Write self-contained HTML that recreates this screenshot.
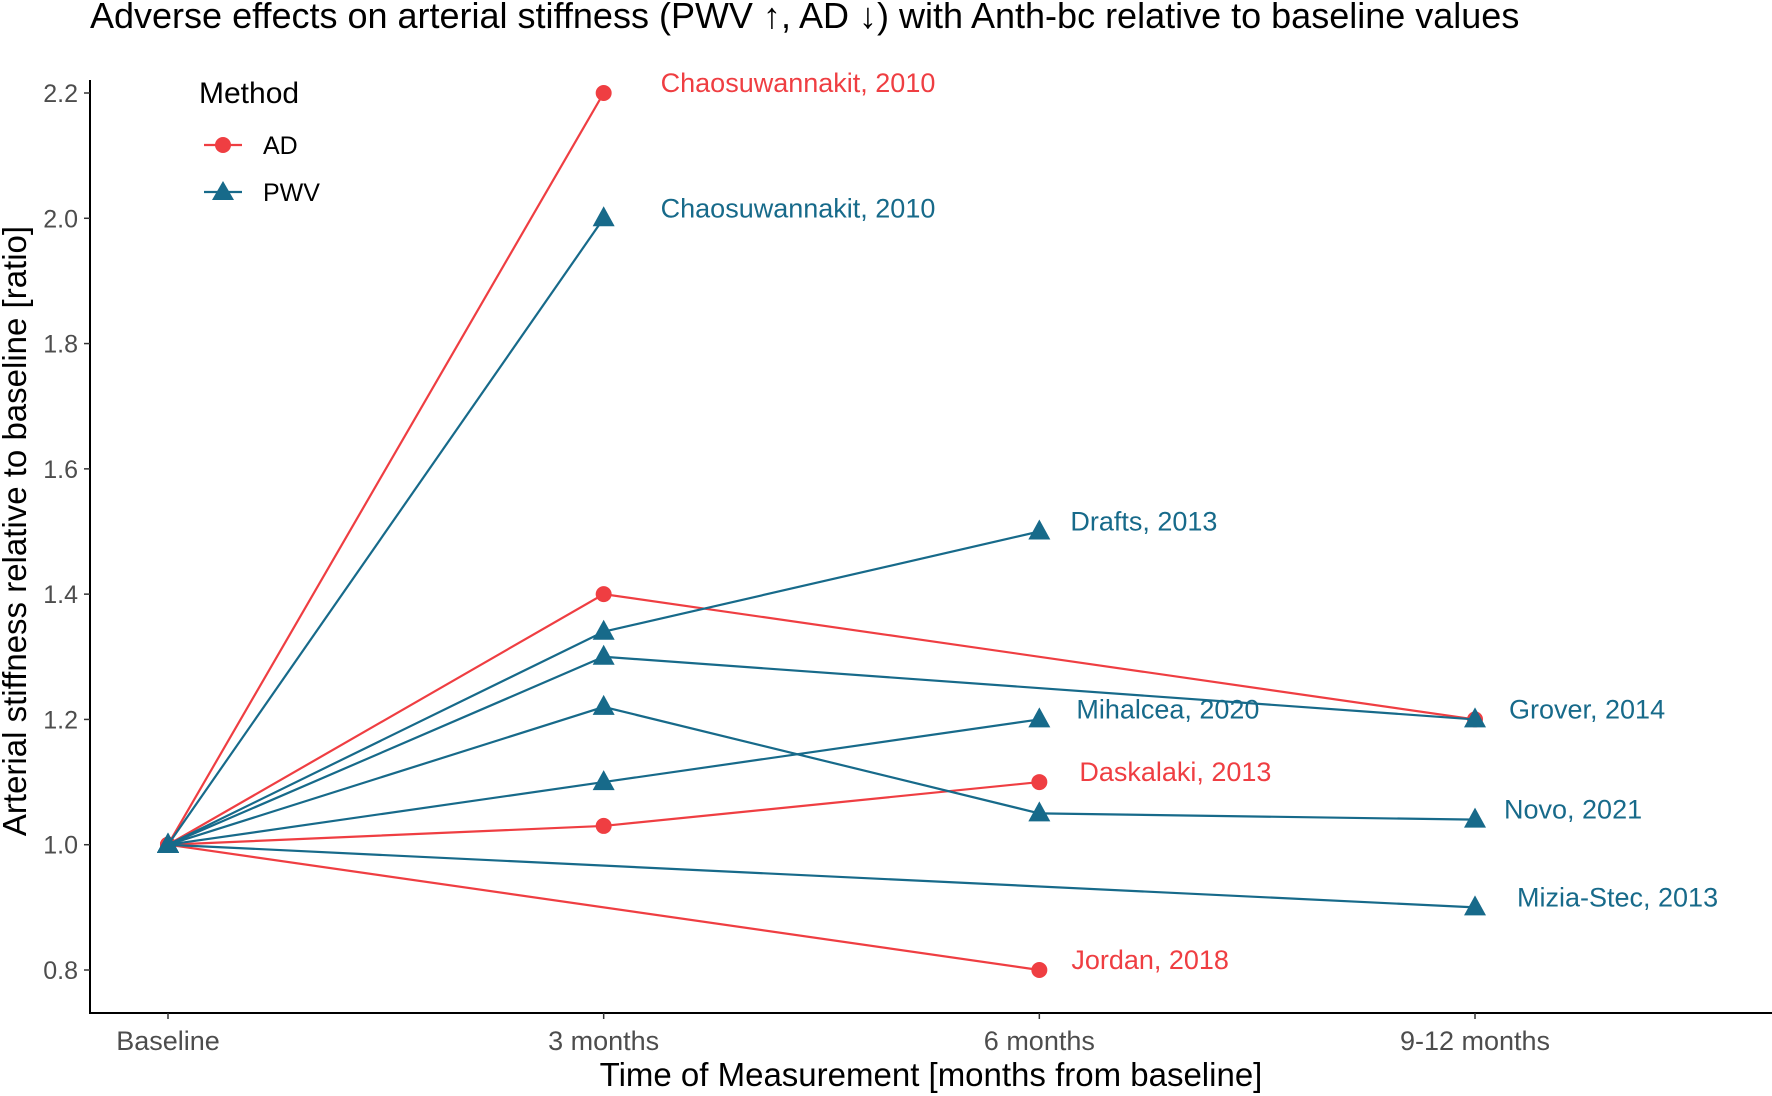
<!DOCTYPE html>
<html><head><meta charset="utf-8"><style>
html,body{margin:0;padding:0;background:#fff;}
svg{display:block;font-family:"Liberation Sans",sans-serif;}
</style></head><body>
<svg id="chart" width="1772" height="1096" viewBox="0 0 1772 1096">
<text x="90" y="28" font-size="36" fill="#000">Adverse effects on arterial stiffness (PWV ↑, AD ↓) with Anth-bc relative to baseline values</text>
<g id="axes"></g>
<g id="series"></g>
<g>
<text x="199" y="103" font-size="30" fill="#000">Method</text>
<g>
<line x1="204" y1="145" x2="242" y2="145" stroke="#ef3e42" stroke-width="2.2"/>
<circle cx="223" cy="145" r="8" fill="#ef3e42"/>
<text x="263" y="154" font-size="25" fill="#000">AD</text></g>
<g>
<line x1="204" y1="192" x2="242" y2="192" stroke="#176a8a" stroke-width="2.2"/>
<polygon points="223,181 234,200 212,200" fill="#176a8a"/>
<text x="263" y="201" font-size="25" fill="#000">PWV</text></g>
</g>
</svg>
<script>
const categories = ["Baseline","3 months","6 months","9-12 months"];
const yTicks = [0.8,1.0,1.2,1.4,1.6,1.8,2.0,2.2];
const methods = ["AD","AD","AD","AD","PWV","PWV","PWV","PWV","PWV","PWV"];
const studyLabels = ["Chaosuwannakit, 2010","","Daskalaki, 2013","Jordan, 2018","Chaosuwannakit, 2010","Drafts, 2013","Grover, 2014","Novo, 2021","Mihalcea, 2020","Mizia-Stec, 2013"];
const seriesValues = [
 [1,2.2,null,null],
 [1,1.4,null,1.2],
 [1,1.03,1.1,null],
 [1,null,0.8,null],
 [1,2.0,null,null],
 [1,1.34,1.5,null],
 [1,1.3,null,1.2],
 [1,1.22,1.05,1.04],
 [1,1.1,1.2,null],
 [1,null,null,0.9]
];
const labelStyleOffsets = [57,0,40,32,57,31,34,29,37,42];
const colors = {AD:"#ef3e42", PWV:"#176a8a"};
const NS="http://www.w3.org/2000/svg";
const xs = i => 168 + i*435.67;
const ys = v => 970 - (v-0.8)*(877/1.4);
function mk(tag, attrs, parent){const e=document.createElementNS(NS,tag);for(const k in attrs)e.setAttribute(k,attrs[k]);parent.appendChild(e);return e;}
const axes=document.getElementById('axes'), ser=document.getElementById('series');
let a=mk('line',{x1:90,y1:80,x2:90,y2:1013,stroke:'#000','stroke-width':2},axes);


a=mk('line',{x1:89,y1:1013,x2:1772,y2:1013,stroke:'#000','stroke-width':2},axes);


yTicks.forEach(v=>{
 mk('line',{x1:84,y1:ys(v),x2:90,y2:ys(v),stroke:'#333','stroke-width':1.5},axes);
 const t=mk('text',{x:78,y:ys(v)+9,'font-size':25,fill:'#4d4d4d','text-anchor':'end'},axes);
 t.textContent=v.toFixed(1);
 
 
});
categories.forEach((c,i)=>{
 mk('line',{x1:xs(i),y1:1013,x2:xs(i),y2:1019,stroke:'#333','stroke-width':1.5},axes);
 const t=mk('text',{x:xs(i),y:1050,'font-size':27,fill:'#4d4d4d','text-anchor':'middle'},axes);
 t.textContent=c;
 
 
});
let t=mk('text',{x:931,y:1086,'font-size':33,fill:'#000','text-anchor':'middle'},axes);
t.textContent="Time of Measurement [months from baseline]";


t=mk('text',{x:0,y:0,'font-size':33,fill:'#000','text-anchor':'middle',transform:'translate(26,531) rotate(-90)'},axes);
t.textContent="Arterial stiffness relative to baseline [ratio]";


seriesValues.forEach((vals,si)=>{
 const col=colors[methods[si]];
 const g=mk('g',{},ser);
 
 
 const pts=[];vals.forEach((v,i)=>{if(v!==null)pts.push([xs(i),ys(v)]);});
 mk('polyline',{points:pts.map(p=>p.join(',')).join(' '),fill:'none',stroke:col,'stroke-width':2.2},g);
 pts.forEach(p=>{
  let m;
  if(methods[si]==="AD") m=mk('circle',{cx:p[0],cy:p[1],r:8,fill:col},g);
  else m=mk('polygon',{points:`${p[0]},${p[1]-12} ${p[0]+11},${p[1]+8} ${p[0]-11},${p[1]+8}`,fill:col},g);
  
  
 });
 if(studyLabels[si]){
  const last=pts[pts.length-1];
  const lt=mk('text',{x:last[0]+labelStyleOffsets[si],y:last[1]-1,'font-size':27,fill:col},g);
  lt.textContent=studyLabels[si];
  
  
 }
});
</script>
</body></html>
